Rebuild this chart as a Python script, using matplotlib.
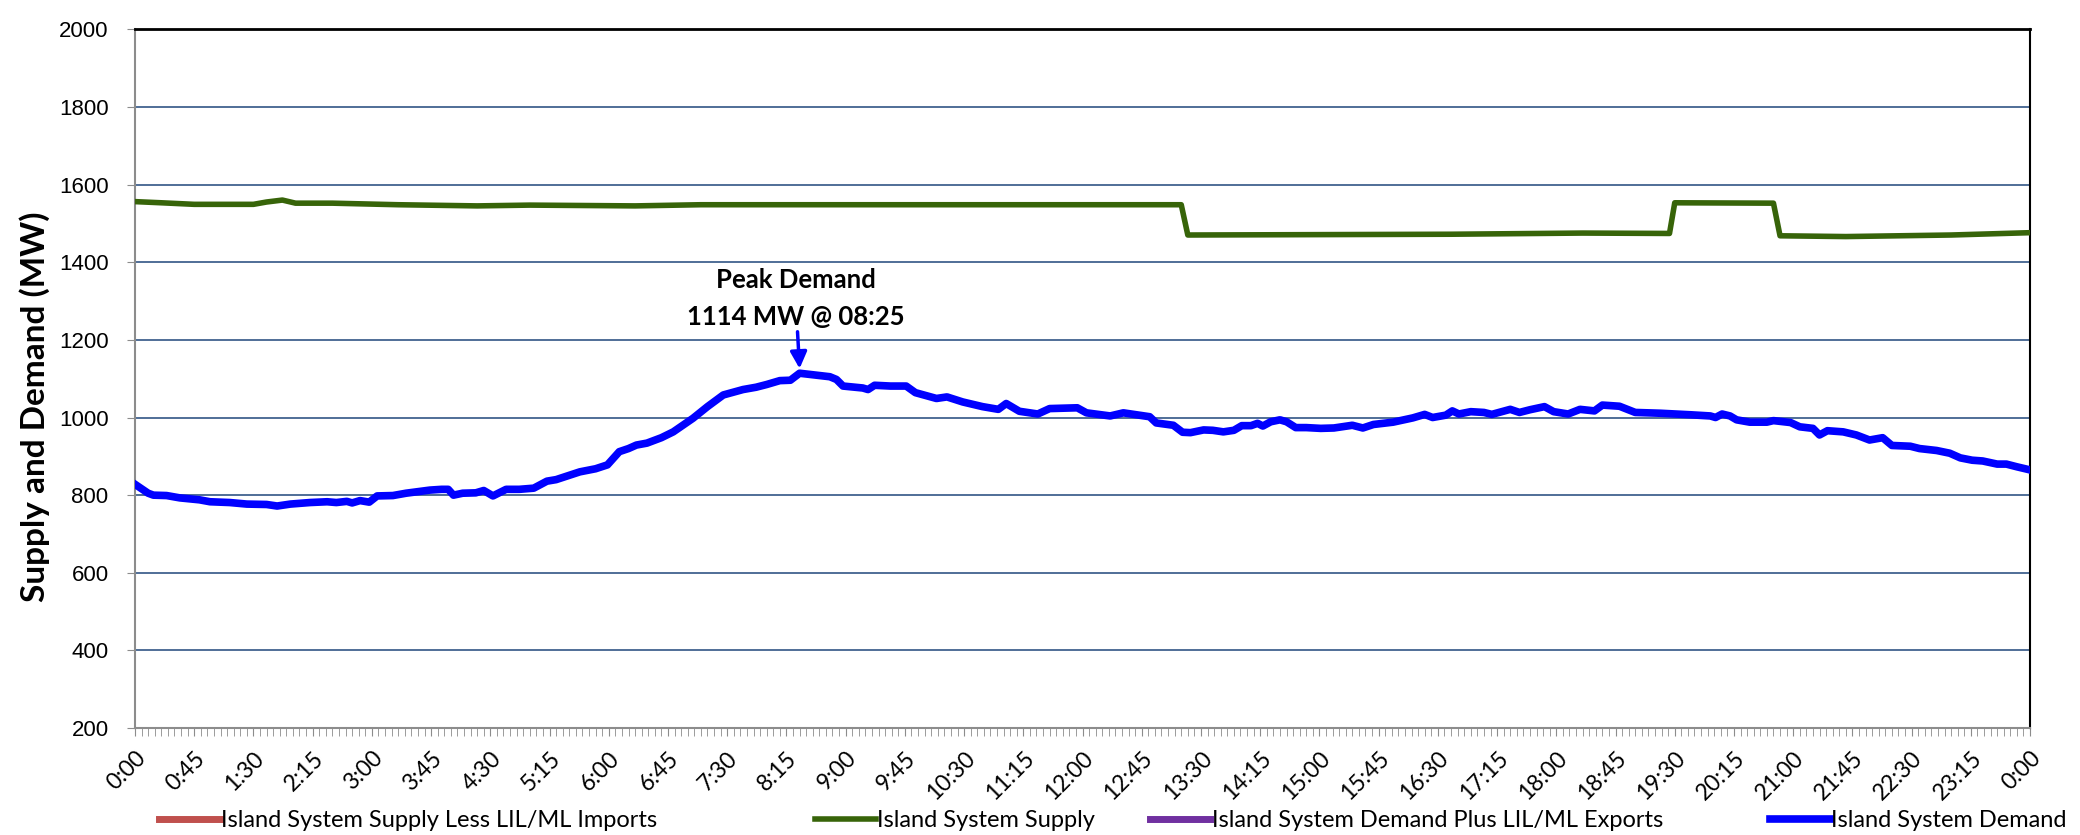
import numpy as np
import matplotlib
matplotlib.use('Agg')
import matplotlib.pyplot as plt

# Demand readings (minutes after midnight, MW)
demand_min = [0, 10, 14, 24, 34, 49, 57, 72, 85, 100, 108, 118, 133, 146, 153, 161, 165, 171,
              178, 184, 196, 206, 224, 233, 238, 242, 249, 259, 265, 272, 282, 292, 303, 313,
              320, 338, 350, 359, 368, 375, 381, 389, 400, 409, 424, 435, 447, 462, 472, 480,
              490, 498, 505, 515, 528, 533, 538, 553, 557, 562, 574, 586, 593, 609, 617, 629,
              644, 656, 662, 672, 680, 686, 695, 716, 723, 741, 751, 771, 776, 789, 796, 802,
              812, 819, 827, 835, 841, 848, 853, 857, 863, 870, 875, 882, 890, 901, 911, 919,
              925, 933, 941, 956, 971, 980, 986, 996, 1001, 1006, 1015, 1025, 1031, 1045, 1052,
              1060, 1071, 1078, 1089, 1098, 1109, 1115, 1128, 1140, 1159, 1182, 1197, 1201, 1206,
              1212, 1217, 1227, 1240, 1245, 1258, 1265, 1275, 1280, 1286, 1298, 1308, 1318, 1328,
              1335, 1349, 1356, 1369, 1379, 1387, 1396, 1404, 1415, 1422, 1430, 1440]
demand_mw = [828, 805, 800, 799, 793, 788, 783, 781, 777, 776, 772, 777, 781, 783, 781, 784, 780, 786,
             782, 798, 799, 805, 813, 815, 815, 800, 805, 806, 812, 798, 815, 815, 818, 836,
             840, 860, 868, 878, 912, 920, 929, 934, 948, 963, 998, 1028, 1058, 1072, 1078, 1085,
             1095, 1096, 1114, 1110, 1105, 1098, 1081, 1076, 1072, 1083, 1081, 1081, 1064, 1049, 1053, 1040,
             1028, 1021, 1036, 1016, 1012, 1009, 1023, 1025, 1012, 1004, 1012, 1002, 986, 980, 962, 961,
             968, 967, 963, 967, 979, 979, 985, 978, 989, 994, 989, 974, 974, 972, 973, 977,
             980, 973, 982, 988, 999, 1008, 1000, 1006, 1017, 1009, 1015, 1013, 1008, 1021, 1013,
             1020, 1028, 1015, 1009, 1021, 1017, 1032, 1029, 1013, 1011, 1007, 1004, 1000, 1009,
             1004, 994, 988, 988, 992, 987, 976, 972, 955, 966, 963, 955, 942, 948,
             928, 926, 920, 915, 908, 896, 890, 888, 880, 880, 873, 865]

# Supply readings (minutes after midnight, MW)
supply_min = [0, 20, 45, 90, 100, 112, 122, 150, 200, 260, 300, 380, 430, 600, 795, 800,
              1000, 1100, 1166, 1170, 1245, 1250, 1300, 1380, 1440]
supply_mw = [1556, 1553, 1549, 1549, 1555, 1560, 1552, 1552, 1548, 1545, 1547, 1545, 1548, 1548, 1548, 1470,
             1472, 1475, 1474, 1553, 1552, 1468, 1466, 1470, 1476]

tick_min = list(range(0, 1441, 45))
tick_labels = ['0:00', '0:45', '1:30', '2:15', '3:00', '3:45', '4:30', '5:15', '6:00', '6:45',
               '7:30', '8:15', '9:00', '9:45', '10:30', '11:15', '12:00', '12:45', '13:30',
               '14:15', '15:00', '15:45', '16:30', '17:15', '18:00', '18:45', '19:30', '20:15',
               '21:00', '21:45', '22:30', '23:15', '0:00']

peak_min, peak_mw = 505, 1114

fig = plt.figure(figsize=(20.8, 8.35), dpi=100)
ax = fig.add_axes([0.0649, 0.128, 0.976 - 0.0649, 0.965 - 0.128])

l_red, = ax.plot([], [], color='#c0504d', linewidth=5, label='Island System Supply Less LIL/ML Imports')
l_green, = ax.plot(supply_min, supply_mw, color='#376409', linewidth=4, label='Island System Supply', zorder=3)
l_purple, = ax.plot([], [], color='#7030a0', linewidth=5, label='Island System Demand Plus LIL/ML Exports')
l_blue, = ax.plot(demand_min, demand_mw, color='#0000ff', linewidth=5.5, label='Island System Demand', zorder=4)

ax.set_xlim(0, 1440)
ax.set_ylim(200, 2000)
ax.set_yticks(np.arange(200, 2001, 200))
ax.set_xticks(tick_min)
ax.set_xticklabels(tick_labels, rotation=45, ha='right', rotation_mode='anchor',
                   fontsize=16.5, family='Lato')
ax.set_xticks(np.arange(0, 1441, 5), minor=True)
ax.tick_params(axis='x', which='both', direction='out', length=6, color='#8c8c8c', pad=8)
ax.tick_params(axis='y', direction='out', length=6, color='#8c8c8c', labelsize=16, pad=13)
for lbl in ax.get_yticklabels():
    lbl.set_family('Liberation Sans')

ax.grid(axis='y', color='#41628f', linewidth=1.3)
ax.set_axisbelow(True)
ax.spines['left'].set_color('#8c8c8c')
ax.spines['bottom'].set_color('#8c8c8c')
ax.spines['left'].set_linewidth(1.5)
ax.spines['bottom'].set_linewidth(1.5)
ax.spines['top'].set_color('black')
ax.spines['right'].set_color('black')
ax.spines['top'].set_linewidth(2)
ax.spines['right'].set_linewidth(1.5)

ax.set_ylabel('Supply and Demand (MW)', fontsize=24, fontweight='bold', family='Lato')
ax.yaxis.set_label_coords(-0.045, 0.46)

ax.annotate('Peak Demand\n1114 MW @ 08:25', xy=(peak_min, peak_mw + 12), xytext=(peak_min - 3, 1228),
            ha='center', va='bottom', fontsize=18.5, fontweight='bold', family='Lato', linespacing=1.65,
            arrowprops=dict(arrowstyle='-|>', color='#0000ff', lw=2.5, mutation_scale=25,
                            shrinkA=0, shrinkB=0))

# one legend per entry, placed like the original
leg_x = [0.0766, 0.392, 0.553, 0.851]
for line, x in zip([l_red, l_green, l_purple, l_blue], leg_x):
    fig.legend(handles=[line], loc='center left', bbox_to_anchor=(x, 0.0168), frameon=False,
               prop={'family': 'Lato', 'size': 17}, handlelength=2.55, handletextpad=0.05,
               borderpad=0, borderaxespad=0)

fig.savefig('out.png', dpi=100)
